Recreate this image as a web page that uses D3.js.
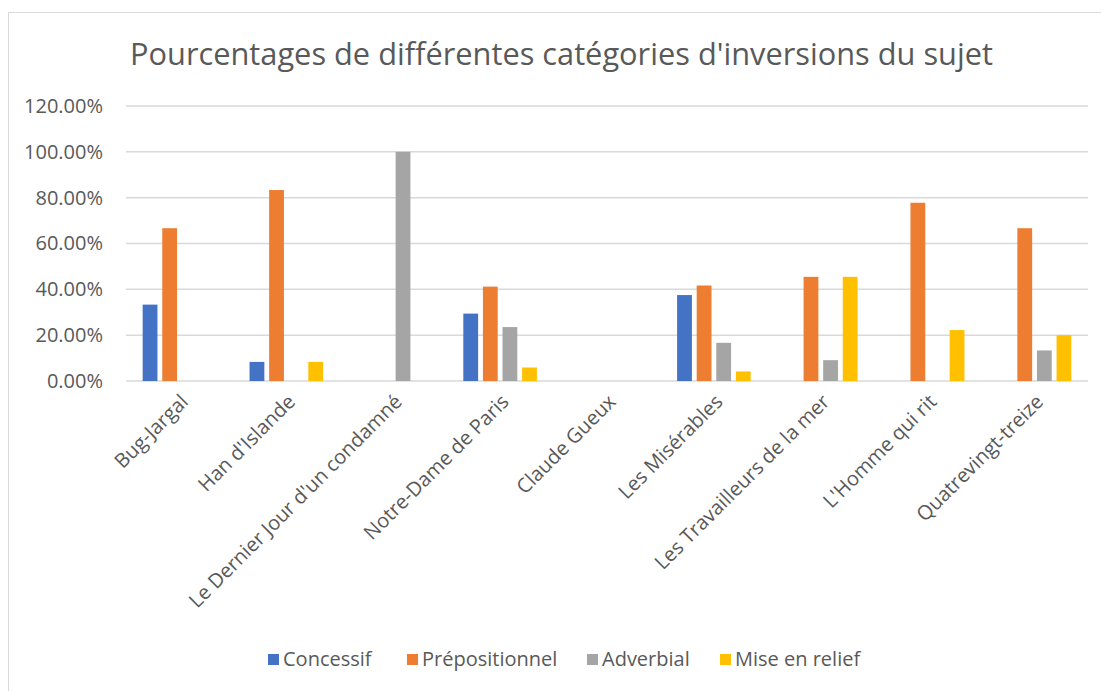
<!DOCTYPE html>
<html><head><meta charset="utf-8">
<script src="https://cdn.jsdelivr.net/npm/d3@7"></script>
<style>body{margin:0;background:#fff}svg{display:block}</style>
</head><body>
<svg id="c" width="1101" height="691"></svg>
<script>
const categories = ["Bug-Jargal","Han d'Islande","Le Dernier Jour d'un condamné","Notre-Dame de Paris","Claude Gueux","Les Misérables","Les Travailleurs de la mer","L'Homme qui rit","Quatrevingt-treize"];
const seriesNames = ["Concessif","Prépositionnel","Adverbial","Mise en relief"];
const concessif =      [0.3333,0.0833,0,0.2941,0,0.375,0,0,0];
const prepositionnel = [0.6667,0.8333,0,0.4118,0,0.4167,0.4545,0.7778,0.6667];
const adverbial =      [0,0,1.0,0.2353,0,0.1667,0.0909,0,0.1333];
const miseEnRelief =   [0,0.0833,0,0.0588,0,0.0417,0.4545,0.2222,0.2];
const yTicks = [0,0.2,0.4,0.6,0.8,1.0,1.2];
const colors = ["#4472C4","#ED7D31","#A5A5A5","#FFC000"];
const title = "Pourcentages de différentes catégories d'inversions du sujet";

const seriesValues = [concessif, prepositionnel, adverbial, miseEnRelief];
const svg = d3.select("#c");
const font = "'Open Sans', sans-serif";
const txt = "#595959";

svg.append("rect").attr("x",8.5).attr("y",12.5).attr("width",1200).attr("height",800)
  .attr("fill","#fff").attr("stroke","#d9d9d9").attr("stroke-width",1);

svg.append("text").attr("x",130).attr("y",65).text(title)
  .attr("font-family",font).attr("font-size",31).attr("fill",txt)
  .attr("textLength",863).attr("lengthAdjust","spacingAndGlyphs");

const x0 = d3.scaleBand().domain(categories).range([126,1088]).padding(0);
const x1 = d3.scaleBand().domain(seriesNames).range([0,x0.bandwidth()]).paddingInner(0.245).paddingOuter(0.85);
const y = d3.scaleLinear().domain([0,1.2]).range([381,106]);

// gridlines
svg.append("g").selectAll("line").data(yTicks).join("line")
  .attr("x1",126).attr("x2",1088).attr("y1",d=>y(d)).attr("y2",d=>y(d))
  .attr("stroke","#d9d9d9").attr("stroke-width",1.5);

// y axis labels
const yAxis = d3.axisLeft(y).tickValues(yTicks).tickFormat(d3.format(".2%")).tickSize(0).tickPadding(0);
const ya = svg.append("g").attr("transform","translate(103,0)").call(yAxis);
ya.select(".domain").remove();
ya.selectAll("text").attr("font-family",font).attr("font-size",20).attr("fill",txt);

// bars
const groups = svg.append("g").selectAll("g").data(categories).join("g")
  .attr("transform",d=>`translate(${x0(d)},0)`);
groups.selectAll("rect").data((c,i)=>seriesNames.map((s,j)=>({s,j,v:seriesValues[j][i]})).filter(d=>d.v>0))
  .join("rect")
  .attr("x",d=>x1(d.s)).attr("width",x1.bandwidth())
  .attr("y",d=>y(d.v)).attr("height",d=>y(0)-y(d.v))
  .attr("fill",d=>colors[d.j]);

// x axis labels
const xAxis = d3.axisBottom(x0).tickSize(0).tickPadding(0);
const xa = svg.append("g").attr("transform","translate(0,381)").call(xAxis);
xa.select(".domain").remove();
xa.selectAll("text").attr("font-family",font).attr("font-size",20).attr("fill",txt)
  .attr("text-anchor","end").attr("dy",null).attr("y",0)
  .attr("transform","translate(10,22) rotate(-45)");

// legend
const legendX = [268,407,587,720];
const lg = svg.append("g").selectAll("g").data(seriesNames).join("g")
  .attr("transform",(d,i)=>`translate(${legendX[i]},659)`);
lg.append("rect").attr("x",0).attr("y",-5).attr("width",11).attr("height",11).attr("fill",(d,i)=>colors[i]);
lg.append("text").attr("x",15).attr("y",0).attr("dy","0.35em").text(d=>d)
  .attr("font-family",font).attr("font-size",20).attr("fill",txt);
</script>
</body></html>
